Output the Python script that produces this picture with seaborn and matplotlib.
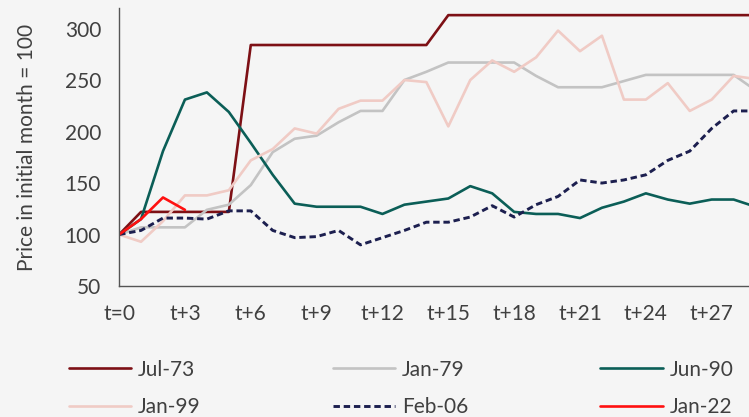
import numpy as np
import pandas as pd
import matplotlib
matplotlib.use("Agg")
import matplotlib.pyplot as plt
import seaborn as sns

months = list(range(30))
tick_pos = list(range(0, 30, 3))
tick_labels = ["t=0"] + [f"t+{m}" for m in tick_pos[1:]]

jul73 = [100, 122, 122, 122, 122, 122, 284, 284, 284, 284, 284, 284, 284, 284, 284,
         313, 313, 313, 313, 313, 313, 313, 313, 313, 313, 313, 313, 313, 313, 313]
jan79 = [100, 107, 107, 107, 124, 129, 148, 180, 193, 196, 209, 220, 220, 250, 258,
         267, 267, 267, 267, 254, 243, 243, 243, 249, 255, 255, 255, 255, 255, 240]
jun90 = [100, 115, 181, 231, 238, 219, 189, 158, 130, 127, 127, 127, 120, 129, 132,
         135, 147, 140, 122, 120, 120, 116, 126, 132, 140, 134, 130, 134, 134, 127]
jan99 = [100, 93, 113, 138, 138, 143, 172, 183, 203, 198, 222, 230, 230, 250, 248,
         205, 250, 269, 258, 272, 298, 278, 293, 231, 231, 247, 220, 231, 254, 251]
feb06 = [100, 104, 116, 116, 115, 123, 123, 104, 97, 98, 104, 90, 97, 104, 112,
         112, 117, 128, 117, 129, 137, 153, 150, 153, 158, 172, 181, 203, 220, 220]
jan22 = [100, 115, 136, 124]

series = [
    ("Jul-73", jul73, "#7d1015", "-"),
    ("Jan-79", jan79, "#c3c3c3", "-"),
    ("Jun-90", jun90, "#0b5e57", "-"),
    ("Jan-99", jan99, "#f0cbc5", "-"),
    ("Feb-06", feb06, "#1c1f4f", "--"),
    ("Jan-22", jan22, "#ff1010", "-"),
]

sns.set_style("white")
plt.rcParams["font.family"] = ["Lato", "DejaVu Sans"]
bg = "#f5f5f5"
txt = "#404040"
fs = 15

fig = plt.figure(figsize=(7.49, 4.17), dpi=100, facecolor=bg)
ax = fig.add_axes([0.159, 0.314, 0.841, 0.667], facecolor=bg)

handles = {}
for name, vals, color, ls in series:
    df = pd.DataFrame({"m": months[:len(vals)], "v": vals})
    sns.lineplot(data=df, x="m", y="v", ax=ax, color=color, linewidth=1.9,
                 linestyle=ls, label=name, legend=False)
    line = ax.get_lines()[-1]
    if ls == "--":
        line.set_dashes((2.2, 1.3))
        line.set_linewidth(2.1)
    handles[name] = line

ax.set_xlim(0, 28.7)
ax.set_ylim(50, 320)
ax.set_xticks(tick_pos)
ax.set_xticklabels(tick_labels)
ax.set_yticks([50, 100, 150, 200, 250, 300])
ax.set_xlabel("")
ax.set_ylabel("Price in initial month = 100", fontsize=fs, color=txt, labelpad=20)

for s in ["top", "right"]:
    ax.spines[s].set_visible(False)
for s in ["left", "bottom"]:
    ax.spines[s].set_color("#555555")
    ax.spines[s].set_linewidth(1.0)
ax.tick_params(axis="x", direction="out", length=5, width=1, color="#555555",
               labelsize=fs, labelcolor=txt, pad=8)
ax.tick_params(axis="y", direction="in", length=6, width=1, color="#555555",
               labelsize=fs, labelcolor=txt, pad=13)

order = ["Jul-73", "Jan-99", "Jan-79", "Feb-06", "Jun-90", "Jan-22"]
leg = fig.legend([handles[n] for n in order], order, loc="center left",
                 bbox_to_anchor=(0.092, 0.068, 0.887, 0.0), mode="expand",
                 ncol=3, frameon=False, fontsize=fs, handlelength=2.98,
                 handletextpad=0.33, labelspacing=0.85, borderaxespad=0,
                 borderpad=0)
for t in leg.get_texts():
    t.set_color(txt)

fig.savefig("out.png", dpi=100, facecolor=bg)
